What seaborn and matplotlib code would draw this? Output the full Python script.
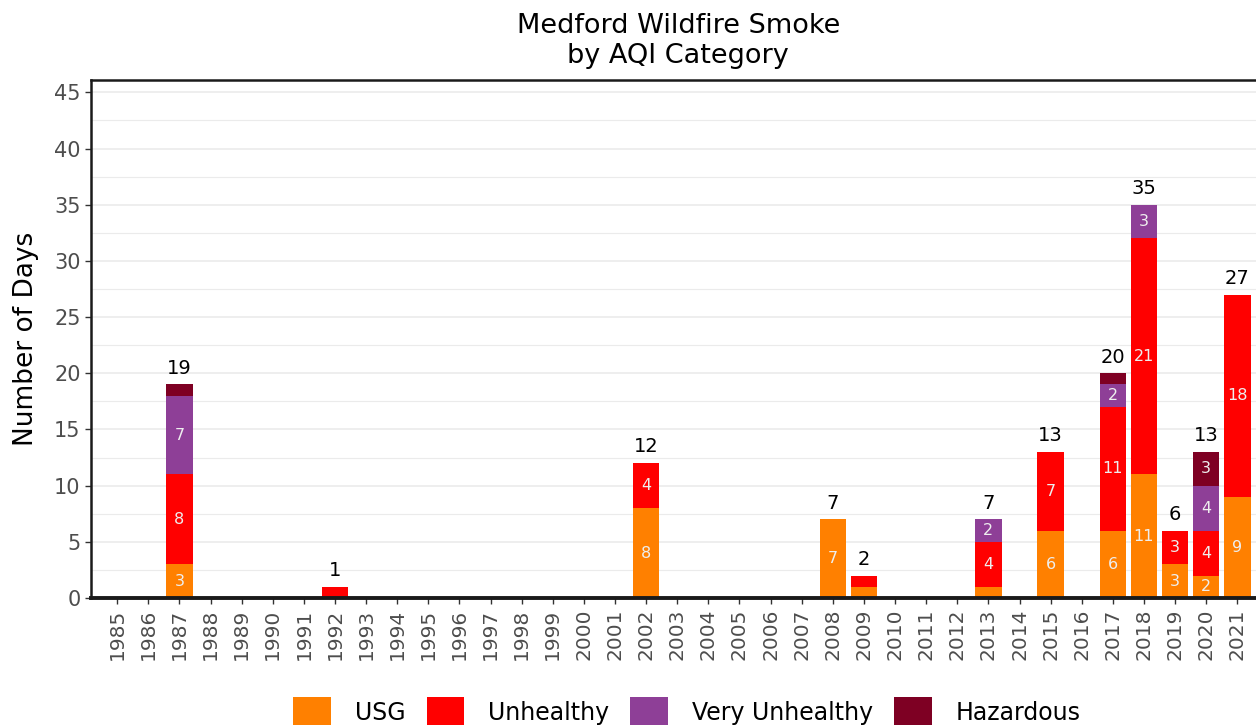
import numpy as np
import pandas as pd
import matplotlib
matplotlib.use("Agg")
import matplotlib.pyplot as plt
from matplotlib.patches import Patch
from matplotlib.ticker import MultipleLocator
import seaborn as sns

years = [str(y) for y in range(1985, 2022)]
usg = {"1987": 3, "2002": 8, "2008": 7, "2009": 1, "2013": 1, "2015": 6,
       "2017": 6, "2018": 11, "2019": 3, "2020": 2, "2021": 9}
unhealthy = {"1987": 8, "1992": 1, "2002": 4, "2009": 1, "2013": 4, "2015": 7,
             "2017": 11, "2018": 21, "2019": 3, "2020": 4, "2021": 18}
very_unhealthy = {"1987": 7, "2013": 2, "2017": 2, "2018": 3, "2020": 4}
hazardous = {"1987": 1, "2017": 1, "2020": 3}

categories = ["USG", "Unhealthy", "Very Unhealthy", "Hazardous"]
colors = ["#FF8000", "#FF0000", "#8E3F97", "#7E0023"]
series = [usg, unhealthy, very_unhealthy, hazardous]

df = pd.DataFrame({"year": years})
for cat, s in zip(categories, series):
    df[cat] = [s.get(y, 0) for y in years]
cum = df[categories].cumsum(axis=1)
df["total"] = cum[categories[-1]]

sns.set_theme(style="white")
plt.rcParams["font.family"] = ["DejaVu Sans"]
plt.rcParams["text.color"] = "black"

fig = plt.figure(figsize=(12.56, 7.25), dpi=100)
ax = fig.add_axes([0.0725, 0.1752, 0.9275, 0.7145])

for i in range(len(categories) - 1, -1, -1):
    cat = categories[i]
    plot_df = pd.DataFrame({"year": years, "val": cum[cat].values})
    sns.barplot(data=plot_df, x="year", y="val", color=colors[i], saturation=1,
                width=0.85, ax=ax, order=years, linewidth=0)

# segment labels
for idx, y in enumerate(years):
    bottom = 0
    for cat in categories:
        v = df.loc[idx, cat]
        if v > 1:
            ax.text(idx, bottom + v / 2, str(v), ha="center", va="center",
                    color="#EEEEEE", fontsize=11.5)
        bottom += v
    t = df.loc[idx, "total"]
    if t > 0:
        ax.text(idx, t + 0.6, str(t), ha="center", va="bottom", color="black", fontsize=14)

ax.set_xlim(-0.84, 36.6)
ax.set_ylim(0, 46.1)
ax.yaxis.set_major_locator(MultipleLocator(5))
ax.yaxis.set_minor_locator(MultipleLocator(2.5))
ax.grid(axis="y", which="major", color="#EBEBEB", linewidth=1.2)
ax.grid(axis="y", which="minor", color="#EBEBEB", linewidth=0.8)
ax.set_axisbelow(True)

for side in ["left", "top", "bottom"]:
    ax.spines[side].set_visible(True)
    ax.spines[side].set_color("#1A1A1A")
ax.spines["left"].set_linewidth(1.8)
ax.spines["top"].set_linewidth(1.8)
ax.spines["bottom"].set_linewidth(2.8)
ax.spines["right"].set_visible(False)

ax.tick_params(axis="both", which="major", length=4, width=1, color="#333333",
               labelcolor="#4D4D4D", left=True, bottom=True)
ax.tick_params(axis="y", which="major", labelsize=15)
ax.tick_params(axis="x", which="major", labelsize=14.5)
ax.tick_params(axis="y", which="minor", length=0)
plt.setp(ax.get_xticklabels(), rotation=90)
ax.set_xlabel("")
ax.set_ylabel("Number of Days", fontsize=19, color="black")
ax.yaxis.set_label_coords(-0.045, 0.5)

fig.suptitle("Medford Wildfire Smoke\nby AQI Category", fontsize=19.5, y=0.982,
             x=0.54, va="top", linespacing=1.2, color="black")

handles = [Patch(facecolor=c, edgecolor="none", label=l) for c, l in zip(colors, categories)]
leg = fig.legend(handles=handles, loc="center", ncol=4, frameon=False,
                 bbox_to_anchor=(0.547, 0.018), fontsize=17, handlelength=1.6,
                 handleheight=1.6, columnspacing=0.9, handletextpad=1.0)
for txt in leg.get_texts():
    txt.set_color("black")

fig.savefig("out.png", dpi=100)
